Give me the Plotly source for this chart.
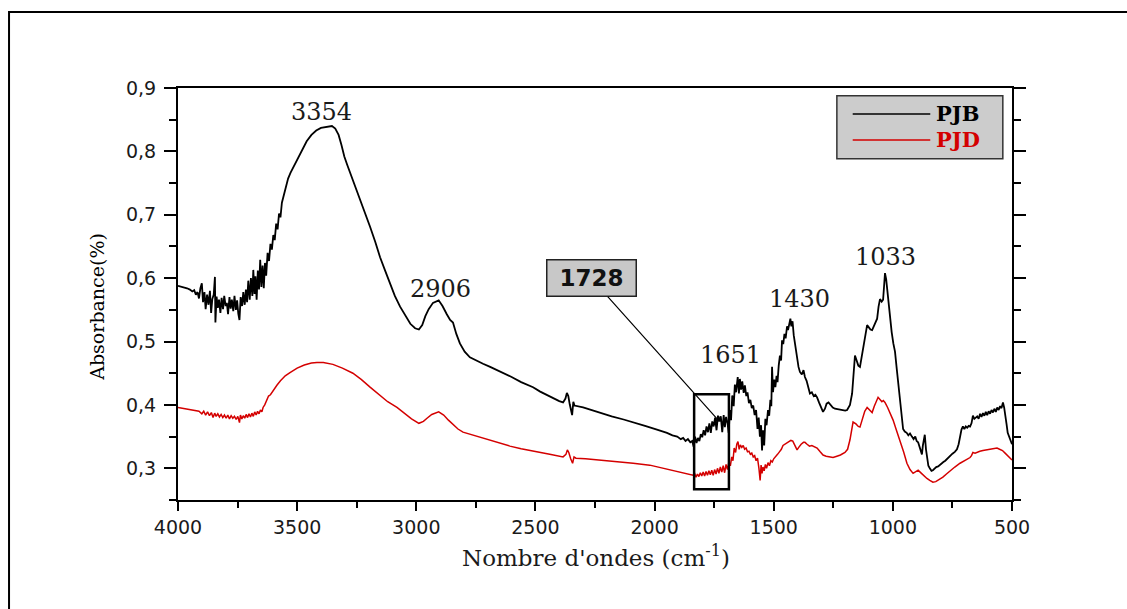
import plotly.graph_objects as go

# FTIR spectra: (wavenumber cm-1, absorbance)
pjb_points = [
    (4000, 0.588), (3988, 0.587), (3975, 0.586), (3962, 0.584), (3950, 0.582), (3940, 0.579),
    (3932, 0.581), (3925, 0.574), (3918, 0.578), (3912, 0.568), (3906, 0.584), (3900, 0.592),
    (3895, 0.562), (3889, 0.578), (3884, 0.551), (3878, 0.574), (3872, 0.558), (3866, 0.580),
    (3861, 0.545), (3856, 0.567), (3850, 0.574), (3845, 0.602), (3843, 0.530), (3838, 0.571),
    (3833, 0.553), (3828, 0.566), (3822, 0.545), (3817, 0.569), (3811, 0.551), (3806, 0.572),
    (3800, 0.556), (3795, 0.561), (3790, 0.543), (3784, 0.570), (3779, 0.552), (3774, 0.566),
    (3768, 0.548), (3763, 0.572), (3757, 0.550), (3752, 0.565), (3747, 0.544), (3742, 0.534),
    (3737, 0.570), (3731, 0.556), (3726, 0.578), (3720, 0.558), (3715, 0.582), (3710, 0.562),
    (3705, 0.596), (3699, 0.566), (3694, 0.600), (3688, 0.572), (3684, 0.613), (3679, 0.575),
    (3675, 0.603), (3670, 0.566), (3665, 0.612), (3660, 0.582), (3655, 0.629), (3650, 0.586),
    (3645, 0.620), (3640, 0.584), (3635, 0.624), (3630, 0.604), (3624, 0.640), (3618, 0.627),
    (3612, 0.654), (3606, 0.645), (3600, 0.668), (3594, 0.660), (3588, 0.686), (3582, 0.677),
    (3576, 0.702), (3570, 0.696), (3564, 0.719), (3558, 0.727), (3552, 0.738), (3545, 0.748),
    (3538, 0.757), (3528, 0.766), (3515, 0.776), (3500, 0.787), (3480, 0.802), (3460, 0.816),
    (3440, 0.826), (3420, 0.833), (3400, 0.837), (3377, 0.839), (3354, 0.840), (3340, 0.836),
    (3326, 0.826), (3314, 0.810), (3302, 0.792), (3290, 0.779), (3278, 0.767), (3258, 0.746),
    (3236, 0.723), (3215, 0.703), (3194, 0.681), (3172, 0.657), (3152, 0.633), (3130, 0.611),
    (3110, 0.592), (3090, 0.572), (3068, 0.555), (3045, 0.540), (3025, 0.528), (3005, 0.521),
    (2989, 0.519), (2975, 0.526), (2962, 0.540), (2948, 0.551), (2930, 0.561), (2906, 0.565),
    (2890, 0.556), (2872, 0.543), (2858, 0.534), (2846, 0.530), (2832, 0.512), (2817, 0.497),
    (2797, 0.484), (2775, 0.475), (2750, 0.470), (2720, 0.465), (2690, 0.460), (2649, 0.453),
    (2600, 0.444), (2560, 0.436), (2530, 0.431), (2510, 0.428), (2480, 0.421), (2440, 0.413),
    (2400, 0.406), (2384, 0.404), (2374, 0.410), (2368, 0.419), (2362, 0.414), (2356, 0.401),
    (2350, 0.388), (2346, 0.384), (2341, 0.405), (2336, 0.399), (2300, 0.396), (2260, 0.391),
    (2229, 0.387), (2180, 0.382), (2130, 0.377), (2090, 0.373), (2040, 0.367), (1990, 0.361),
    (1948, 0.356), (1925, 0.352), (1905, 0.350), (1890, 0.346), (1880, 0.348), (1870, 0.343),
    (1860, 0.346), (1850, 0.341), (1842, 0.343), (1836, 0.334), (1830, 0.350), (1824, 0.340),
    (1818, 0.348), (1812, 0.343), (1806, 0.354), (1800, 0.349), (1794, 0.360), (1788, 0.352),
    (1782, 0.366), (1776, 0.357), (1770, 0.371), (1764, 0.356), (1758, 0.374), (1752, 0.366),
    (1746, 0.380), (1740, 0.360), (1734, 0.383), (1728, 0.374), (1722, 0.382), (1716, 0.357),
    (1710, 0.384), (1705, 0.365), (1700, 0.381), (1694, 0.372), (1689, 0.356), (1684, 0.392),
    (1679, 0.376), (1674, 0.415), (1668, 0.398), (1663, 0.432), (1658, 0.420), (1651, 0.444),
    (1646, 0.418), (1642, 0.441), (1637, 0.424), (1632, 0.437), (1626, 0.419), (1621, 0.431),
    (1615, 0.414), (1610, 0.420), (1604, 0.403), (1598, 0.408), (1592, 0.395), (1586, 0.399),
    (1580, 0.384), (1574, 0.392), (1568, 0.362), (1563, 0.380), (1558, 0.350), (1553, 0.368),
    (1549, 0.328), (1545, 0.360), (1540, 0.336), (1535, 0.378), (1530, 0.368), (1524, 0.392),
    (1519, 0.383), (1514, 0.408), (1510, 0.398), (1507, 0.460), (1503, 0.420), (1498, 0.440),
    (1493, 0.428), (1488, 0.446), (1484, 0.436), (1479, 0.462), (1474, 0.478), (1469, 0.470),
    (1465, 0.502), (1460, 0.496), (1455, 0.512), (1450, 0.505), (1444, 0.524), (1440, 0.518),
    (1435, 0.530), (1430, 0.536), (1426, 0.524), (1421, 0.532), (1416, 0.510), (1411, 0.497),
    (1404, 0.478), (1396, 0.460), (1390, 0.452), (1382, 0.448), (1375, 0.455), (1369, 0.444),
    (1362, 0.438), (1355, 0.426), (1348, 0.418), (1340, 0.420), (1332, 0.414), (1325, 0.416),
    (1318, 0.412), (1310, 0.404), (1300, 0.394), (1293, 0.389), (1285, 0.394), (1278, 0.402),
    (1270, 0.404), (1262, 0.400), (1252, 0.396), (1243, 0.394), (1230, 0.393), (1215, 0.392),
    (1200, 0.391), (1192, 0.392), (1180, 0.400), (1171, 0.418), (1165, 0.450), (1159, 0.478),
    (1152, 0.470), (1145, 0.462), (1138, 0.460), (1130, 0.478), (1122, 0.498), (1115, 0.515),
    (1108, 0.526), (1100, 0.522), (1094, 0.519), (1087, 0.518), (1080, 0.524), (1073, 0.530),
    (1066, 0.536), (1060, 0.555), (1054, 0.567), (1047, 0.563), (1041, 0.566), (1036, 0.592),
    (1033, 0.608), (1028, 0.598), (1022, 0.575), (1016, 0.548), (1012, 0.534), (1005, 0.515),
    (998, 0.497), (991, 0.484), (984, 0.458), (977, 0.432), (970, 0.407), (963, 0.380),
    (957, 0.362), (950, 0.358), (942, 0.356), (935, 0.352), (928, 0.355), (920, 0.350),
    (913, 0.346), (906, 0.350), (900, 0.343), (894, 0.341), (888, 0.334), (882, 0.326),
    (878, 0.322), (874, 0.336), (870, 0.348), (866, 0.353), (861, 0.330), (856, 0.312),
    (851, 0.304), (845, 0.300), (838, 0.296), (832, 0.297), (825, 0.300), (818, 0.302),
    (810, 0.303), (802, 0.306), (795, 0.308), (788, 0.310), (780, 0.312), (770, 0.316),
    (760, 0.320), (750, 0.323), (740, 0.326), (731, 0.330), (724, 0.338), (718, 0.350),
    (712, 0.361), (706, 0.366), (700, 0.362), (694, 0.366), (688, 0.364), (682, 0.367),
    (676, 0.366), (670, 0.371), (664, 0.383), (658, 0.378), (652, 0.380), (646, 0.382),
    (640, 0.378), (634, 0.386), (628, 0.381), (622, 0.387), (616, 0.383), (610, 0.389),
    (604, 0.384), (598, 0.390), (592, 0.386), (586, 0.392), (580, 0.388), (574, 0.394),
    (568, 0.389), (562, 0.396), (556, 0.392), (550, 0.398), (544, 0.395), (538, 0.404),
    (533, 0.396), (528, 0.386), (523, 0.370), (518, 0.356), (512, 0.350), (506, 0.343),
    (500, 0.338),
]

pjd_points = [
    (4000, 0.396), (3985, 0.395), (3970, 0.394), (3955, 0.393), (3940, 0.392), (3925, 0.391),
    (3912, 0.390), (3900, 0.386), (3892, 0.390), (3884, 0.384), (3876, 0.389), (3868, 0.383),
    (3860, 0.388), (3853, 0.380), (3846, 0.387), (3840, 0.382), (3833, 0.386), (3826, 0.381),
    (3819, 0.385), (3812, 0.380), (3805, 0.384), (3798, 0.379), (3791, 0.384), (3784, 0.378),
    (3777, 0.383), (3770, 0.379), (3763, 0.382), (3756, 0.377), (3749, 0.382), (3742, 0.372),
    (3738, 0.384), (3732, 0.378), (3726, 0.383), (3720, 0.379), (3714, 0.385), (3708, 0.380),
    (3702, 0.386), (3696, 0.381), (3690, 0.387), (3684, 0.382), (3678, 0.389), (3672, 0.384),
    (3666, 0.390), (3660, 0.386), (3654, 0.392), (3648, 0.389), (3643, 0.396), (3636, 0.400),
    (3628, 0.408), (3620, 0.414), (3612, 0.416), (3604, 0.421), (3596, 0.424), (3585, 0.431),
    (3570, 0.438), (3550, 0.446), (3530, 0.451), (3500, 0.458), (3470, 0.463), (3440, 0.466),
    (3417, 0.467), (3390, 0.467), (3350, 0.464), (3310, 0.458), (3266, 0.450), (3230, 0.440),
    (3194, 0.428), (3160, 0.417), (3120, 0.405), (3081, 0.396), (3050, 0.387), (3020, 0.378),
    (2989, 0.371), (2970, 0.374), (2955, 0.379), (2935, 0.385), (2906, 0.389), (2885, 0.384),
    (2865, 0.376), (2846, 0.369), (2825, 0.362), (2804, 0.357), (2770, 0.353), (2733, 0.349),
    (2690, 0.344), (2649, 0.340), (2607, 0.335), (2560, 0.331), (2500, 0.326), (2440, 0.322),
    (2384, 0.318), (2372, 0.322), (2366, 0.329), (2360, 0.325), (2352, 0.315), (2344, 0.308),
    (2338, 0.318), (2330, 0.316), (2290, 0.315), (2229, 0.313), (2160, 0.311), (2090, 0.308),
    (2020, 0.305), (1960, 0.300), (1923, 0.297), (1890, 0.294), (1860, 0.291), (1839, 0.289),
    (1832, 0.292), (1826, 0.286), (1820, 0.291), (1814, 0.287), (1808, 0.293), (1802, 0.288),
    (1796, 0.294), (1790, 0.288), (1784, 0.295), (1778, 0.289), (1772, 0.296), (1766, 0.290),
    (1760, 0.297), (1754, 0.289), (1748, 0.298), (1742, 0.291), (1736, 0.300), (1730, 0.292),
    (1724, 0.302), (1718, 0.294), (1712, 0.304), (1706, 0.293), (1700, 0.306), (1694, 0.298),
    (1688, 0.310), (1682, 0.304), (1676, 0.318), (1671, 0.312), (1666, 0.332), (1660, 0.325),
    (1655, 0.338), (1650, 0.342), (1645, 0.330), (1640, 0.337), (1634, 0.333), (1628, 0.336),
    (1622, 0.330), (1616, 0.332), (1610, 0.326), (1604, 0.327), (1598, 0.322), (1592, 0.324),
    (1586, 0.318), (1580, 0.320), (1574, 0.312), (1568, 0.316), (1562, 0.300), (1557, 0.281),
    (1553, 0.305), (1549, 0.292), (1545, 0.302), (1540, 0.296), (1535, 0.306), (1530, 0.300),
    (1524, 0.309), (1518, 0.304), (1512, 0.312), (1506, 0.310), (1500, 0.315), (1492, 0.318),
    (1484, 0.322), (1476, 0.326), (1468, 0.330), (1461, 0.336), (1452, 0.338), (1444, 0.341),
    (1436, 0.342), (1428, 0.344), (1420, 0.343), (1412, 0.337), (1402, 0.329), (1395, 0.333),
    (1385, 0.338), (1375, 0.341), (1369, 0.341), (1360, 0.338), (1350, 0.335), (1340, 0.336),
    (1330, 0.334), (1318, 0.332), (1305, 0.326), (1293, 0.321), (1280, 0.319), (1265, 0.318),
    (1251, 0.317), (1235, 0.319), (1220, 0.321), (1201, 0.325), (1190, 0.330), (1180, 0.345),
    (1172, 0.362), (1167, 0.373), (1155, 0.370), (1145, 0.366), (1138, 0.365), (1128, 0.376),
    (1118, 0.390), (1108, 0.396), (1098, 0.392), (1087, 0.388), (1078, 0.398), (1070, 0.406),
    (1062, 0.412), (1055, 0.409), (1046, 0.405), (1040, 0.407), (1033, 0.404), (1022, 0.396),
    (1010, 0.386), (999, 0.376), (985, 0.360), (970, 0.344), (955, 0.326), (941, 0.308),
    (928, 0.298), (915, 0.292), (905, 0.294), (894, 0.297), (880, 0.292), (868, 0.287),
    (857, 0.284), (845, 0.281), (832, 0.278), (820, 0.279), (805, 0.282), (790, 0.286),
    (775, 0.291), (760, 0.296), (740, 0.302), (718, 0.308), (700, 0.312), (688, 0.314),
    (676, 0.317), (670, 0.320), (664, 0.325), (655, 0.324), (645, 0.326), (635, 0.327),
    (622, 0.328), (610, 0.329), (597, 0.330), (585, 0.331), (573, 0.331), (563, 0.332),
    (552, 0.330), (540, 0.328), (529, 0.324), (518, 0.320), (508, 0.316), (500, 0.313),
]

series_names = ["PJB", "PJD"]
peak_wavenumbers = [3354, 2906, 1651, 1430, 1033]
marked_wavenumber = 1728
marked_window = [1834, 1688]

x_ticks = [4000, 3500, 3000, 2500, 2000, 1500, 1000, 500]
x_tick_labels = ["4000", "3500", "3000", "2500", "2000", "1500", "1000", "500"]
x_minor_ticks = [3750, 3250, 2750, 2250, 1750, 1250, 750]
y_ticks = [0.3, 0.4, 0.5, 0.6, 0.7, 0.8, 0.9]
y_tick_labels = ["0,3", "0,4", "0,5", "0,6", "0,7", "0,8", "0,9"]
y_minor_ticks = [0.25, 0.35, 0.45, 0.55, 0.65, 0.75, 0.85]

BLACK = "#000000"
RED = "#d40000"
SERIF = "DejaVu Serif"
SANS = "DejaVu Sans"

pjb_x = [p[0] for p in pjb_points]
pjb_y = [p[1] for p in pjb_points]
pjd_x = [p[0] for p in pjd_points]
pjd_y = [p[1] for p in pjd_points]
pjb_lookup = dict(pjb_points)

fig = go.Figure()
fig.add_trace(go.Scatter(x=pjb_x, y=pjb_y, mode="lines", name=series_names[0],
                         line=dict(color=BLACK, width=1.8), showlegend=False))
fig.add_trace(go.Scatter(x=pjd_x, y=pjd_y, mode="lines", name=series_names[1],
                         line=dict(color=RED, width=1.5), showlegend=False))

# peak labels above the PJB bands (pixel offsets per label)
label_offsets = {3354: (-10, 14), 2906: (2, 11), 1651: (-7, 22), 1430: (9, 20), 1033: (1, 16)}
annotations = []
for wn in peak_wavenumbers:
    dx, dy = label_offsets[wn]
    annotations.append(dict(
        x=wn, y=pjb_lookup[wn], xref="x", yref="y", text=str(wn), showarrow=False,
        xshift=dx, yshift=dy, yanchor="middle",
        font=dict(family=SERIF, size=24, color="#1a1a1a")))

# boxed callout pointing into the carbonyl window
annotations.append(dict(
    x=marked_wavenumber, y=pjb_lookup[marked_wavenumber], xref="x", yref="y",
    text="<b>%d</b>" % marked_wavenumber, showarrow=True, ax=-128, ay=-143,
    arrowhead=1, arrowsize=1, arrowwidth=1.2, arrowcolor=BLACK,
    bgcolor="#c8c8c8", bordercolor="#222222", borderwidth=1.5, borderpad=2,
    width=84, height=31, font=dict(family=SANS, size=23, color="#111111")))

# axis titles
annotations.append(dict(
    x=0.501, y=-0.136, xref="paper", yref="paper", showarrow=False, yanchor="middle",
    text="Nombre d'ondes (cm<sup>-1</sup>)", font=dict(family=SERIF, size=23, color="#1a1a1a")))
annotations.append(dict(
    x=-0.112, y=0.468, xref="paper", yref="paper", showarrow=False, textangle=-90,
    text="Absorbance(%)", font=dict(family=SERIF, size=19, color="#000000")))

# legend box
legend_rows = [(series_names[0], BLACK, 0.937), (series_names[1], RED, 0.874)]
shapes = [
    dict(type="rect", xref="paper", yref="paper", x0=-0.2026, x1=1.16, y0=-0.29, y1=1.1845,
         line=dict(color=BLACK, width=2), fillcolor="rgba(0,0,0,0)", layer="below"),
    dict(type="rect", xref="x", yref="y", x0=marked_window[0], x1=marked_window[1],
         y0=0.267, y1=0.417, line=dict(color=BLACK, width=2.5)),
    dict(type="rect", xref="paper", yref="paper", x0=0.790, x1=0.989, y0=0.828, y1=0.981,
         line=dict(color="#333333", width=1.5), fillcolor="#cccccc"),
]
for name, color, ypos in legend_rows:
    shapes.append(dict(type="line", xref="paper", yref="paper", x0=0.809, x1=0.902,
                       y0=ypos, y1=ypos, line=dict(color=color, width=1.5)))
    annotations.append(dict(x=0.906, y=ypos, xref="paper", yref="paper", showarrow=False,
                            xanchor="left", yanchor="middle", text="<b>%s</b>" % name,
                            font=dict(family=SERIF, size=21, color=color)))

axis_common = dict(showgrid=False, zeroline=False, showline=True, linecolor=BLACK,
                   linewidth=2, ticks="outside", tickcolor=BLACK, tickwidth=1.5,
                   tickfont=dict(family=SANS, size=19, color="#1a1a1a"))

fig.update_layout(
    width=1127, height=609,
    margin=dict(l=178, r=115, t=88, b=109, pad=0),
    paper_bgcolor="white", plot_bgcolor="white",
    xaxis=dict(range=[4000, 500], tickvals=x_ticks, ticktext=x_tick_labels, ticklen=9,
               mirror=True,
               minor=dict(tickvals=x_minor_ticks, ticks="outside", ticklen=6,
                          tickcolor=BLACK, tickwidth=1.5),
               **axis_common),
    yaxis=dict(range=[0.25, 0.9], tickvals=y_ticks, ticktext=y_tick_labels, ticklen=12,
               mirror="ticks", ticklabelstandoff=4,
               minor=dict(tickvals=y_minor_ticks, ticks="outside", ticklen=7,
                          tickcolor=BLACK, tickwidth=1.5),
               **axis_common),
    annotations=annotations,
    shapes=shapes,
)

fig.write_html("out.html")
